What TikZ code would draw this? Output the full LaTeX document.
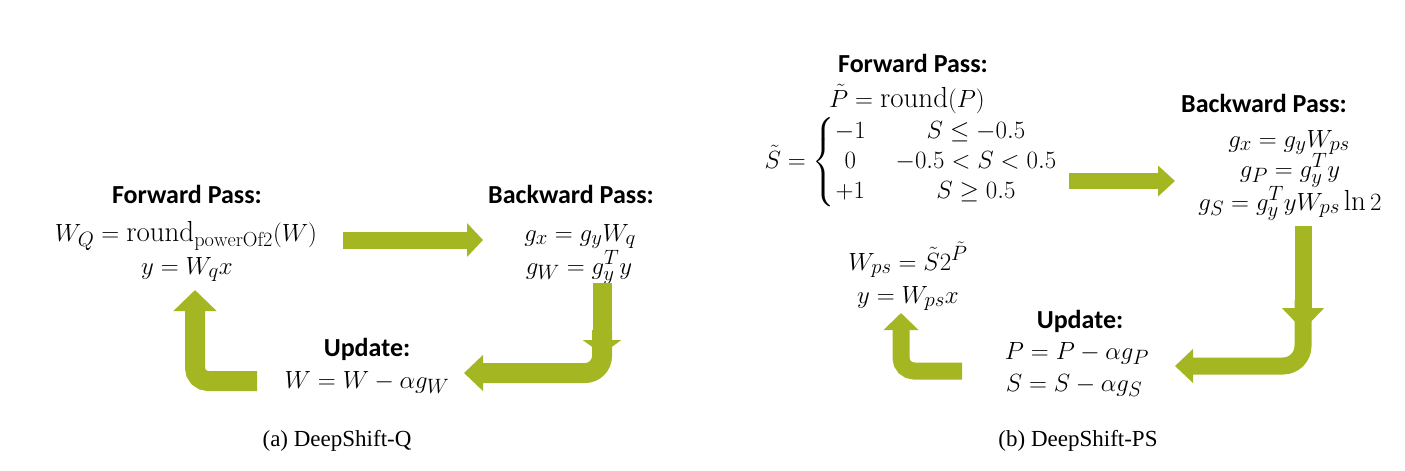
\documentclass[tikz,border=0pt]{standalone}
\usepackage{amsmath}
\usepackage{fontspec}
\newfontfamily\headfont{Carlito}
\newfontfamily\capfont{Liberation Serif}
\usetikzlibrary{arrows.meta}

\definecolor{arrow green}{RGB}{164,182,34}
\tikzset{pass title/.style={font=\headfont\bfseries\fontsize{26}{30}\selectfont, anchor=base, inner sep=0pt},
    formula/.style={font=\fontsize{29}{30}\selectfont, anchor=base, inner sep=0pt},
    caption/.style={font=\capfont\fontsize{23}{27}\selectfont, anchor=base, inner sep=0pt},
    fat arrow/.style n args={3}{draw=arrow green, line width=#1, -{Triangle[width=#2,length=#3]}}}

\begin{document}
\begin{tikzpicture}[x=1pt, y=-1pt]
    \useasboundingbox (0,0) rectangle (1405,471);

    % (a) DeepShift-Q
    \node[pass title] (fwdQ) at (187,203) {Forward Pass:};
    \node[formula] (wq) at (186,241) {$W_Q = \mathrm{round}_{\mathrm{powerOf2}}(W)$};
    \node[formula] (yq) at (187,274) {$y = W_q x$};
    \node[pass title] (bwdQ) at (571,203) {Backward Pass:};
    \node[formula] (gxq) at (580,241) {$g_x = g_y W_q$};
    \node[formula] (gwq) at (579,274) {$g_W = g_y^T y$};
    \node[pass title] (updQ) at (367,356) {Update:};
    \node[formula] (wup) at (367,388) {$W = W - \alpha g_W$};
    \node[caption] (capQ) at (337,446) {(a) DeepShift-Q};

    \coordinate (q1) at (343,240);
    \coordinate (q2) at (483,240);
    \coordinate (q3) at (602,283);
    \coordinate (q4) at (602,354);
    \coordinate (q5) at (602,330);
    \coordinate (q6) at (464,373);
    \coordinate (q7) at (257,381);
    \coordinate (q8) at (195,290);

    \draw[fat arrow={17pt}{33pt}{16pt}] (q1) -- (q2);
    \draw[fat arrow={20pt}{35pt}{19pt}, rounded corners=17pt] (q5) |- (q6);
    \draw[fat arrow={19pt}{38pt}{14pt}] (q3) -- (q4);
    \draw[fat arrow={20pt}{42pt}{21pt}, rounded corners=13pt] (q7) -| (q8);

    % (b) DeepShift-PS
    \node[pass title] (fwdPS) at (913,72) {Forward Pass:};
    \node[formula] (pround) at (907,107) {$\tilde P = \mathrm{round}(P)$};
    \node[formula, anchor=center] (scases) at (911,162) {$\tilde S = \left\{\begin{array}{@{}c@{\hspace{30pt}}c@{}} -1 & S \le -0.5\\ 0 & -0.5 < S < 0.5\\ +1 & S \ge 0.5\end{array}\right.$};
    \node[pass title] (bwdPS) at (1264,112) {Backward Pass:};
    \node[formula] (gxps) at (1289,147) {$g_x = g_y W_{ps}$};
    \node[formula] (gpps) at (1290,177) {$g_P = g_y^T y$};
    \node[formula] (gsps) at (1290,210) {$g_S = g_y^T y W_{ps} \ln 2$};
    \node[formula] (wps) at (908,270) {$W_{ps} = \tilde S 2^{\tilde P}$};
    \node[formula] (yps) at (908,303) {$y = W_{ps} x$};
    \node[pass title] (updPS) at (1080,328) {Update:};
    \node[formula] (pup) at (1077,359) {$P = P - \alpha g_P$};
    \node[formula] (sup) at (1074,391) {$S = S - \alpha g_S$};
    \node[caption] (capPS) at (1078,446) {(b) DeepShift-PS};

    \coordinate (p1) at (1069,181);
    \coordinate (p2) at (1175,181);
    \coordinate (p3) at (1303,226);
    \coordinate (p4) at (1303,330);
    \coordinate (p5) at (1303,300);
    \coordinate (p6) at (1175,366);
    \coordinate (p7) at (962,371);
    \coordinate (p8) at (901,313);

    \draw[fat arrow={16pt}{30pt}{17pt}] (p1) -- (p2);
    \draw[fat arrow={17pt}{33pt}{18pt}, rounded corners=20pt] (p5) |- (p6);
    \draw[fat arrow={17pt}{41pt}{22pt}] (p3) -- (p4);
    \draw[fat arrow={17pt}{34pt}{17pt}, rounded corners=13pt] (p7) -| (p8);
\end{tikzpicture}
\end{document}
